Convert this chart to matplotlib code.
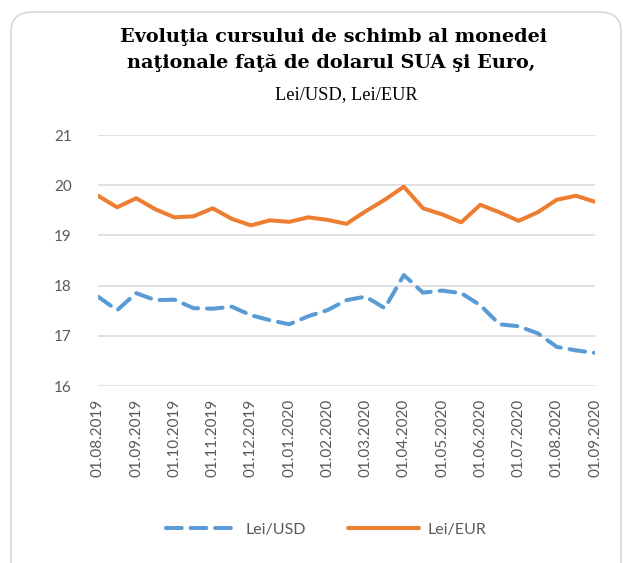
import matplotlib
matplotlib.use('Agg')
import matplotlib.pyplot as plt
from matplotlib.patches import FancyBboxPatch

TICK_LABELS = ["01.08.2019", "01.09.2019", "01.10.2019", "01.11.2019", "01.12.2019",
               "01.01.2020", "01.02.2020", "01.03.2020", "01.04.2020", "01.05.2020",
               "01.06.2020", "01.07.2020", "01.08.2020", "01.09.2020"]

lei_usd = [17.78, 17.51, 17.85, 17.71, 17.72, 17.55, 17.54, 17.58, 17.41, 17.31,
           17.23, 17.39, 17.51, 17.71, 17.78, 17.55, 18.21, 17.86, 17.90, 17.85,
           17.61, 17.23, 17.19, 17.05, 16.78, 16.71, 16.66]
lei_eur = [19.79, 19.56, 19.74, 19.52, 19.36, 19.38, 19.54, 19.33, 19.20, 19.30,
           19.27, 19.36, 19.31, 19.23, 19.48, 19.71, 19.97, 19.54, 19.42, 19.26,
           19.61, 19.46, 19.29, 19.46, 19.71, 19.79, 19.67]

BLUE = "#5B9BD5"
ORANGE = "#ED7D31"
GRAY_TXT = "#595959"

fig = plt.figure(figsize=(6.23, 5.63), dpi=100)
W, H = 623, 563

# rounded chart border (bottom edge runs off the image)
border = FancyBboxPatch((11 / W, 1 - 612 / H), 610 / W, 600 / H,
                        boxstyle="round,pad=0,rounding_size=0.035",
                        transform=fig.transFigure, facecolor="none",
                        edgecolor="#D9D9D9", linewidth=1.2, zorder=-1)
fig.patches.append(border)

ax = fig.add_axes([98 / W, 1 - 386 / H, (595 - 98) / W, (386 - 135) / H])
ax.set_facecolor("none")

x = list(range(len(lei_usd)))
ax.plot(x, lei_usd, color=BLUE, linewidth=2.9, dashes=(3.9, 2.2),
        dash_capstyle="round", solid_capstyle="round", label="Lei/USD")
ax.plot(x, lei_eur, color=ORANGE, linewidth=2.9, solid_capstyle="round",
        solid_joinstyle="round", label="Lei/EUR")

ax.set_xlim(0, len(lei_usd) - 1)
ax.set_ylim(16, 21)
ax.set_yticks([16, 17, 18, 19, 20, 21])
ax.set_xticks(range(0, len(lei_usd), 2))
ax.set_xticklabels(TICK_LABELS, rotation=90)
ax.tick_params(axis="both", length=0, labelsize=11, labelcolor=GRAY_TXT)
ax.tick_params(axis="y", pad=19)
ax.tick_params(axis="x", pad=9)
for lbl in ax.get_xticklabels() + ax.get_yticklabels():
    lbl.set_family("Lato")

ax.grid(axis="y", color="#D9D9D9", linewidth=1.1)
ax.set_axisbelow(True)
for s in ax.spines.values():
    s.set_visible(False)

# title (three lines, positioned by baseline)
fig.text(333 / W, 1 - 41.5 / H, "Evoluţia cursului de schimb al monedei",
         ha="center", va="baseline", fontsize=13.9, fontweight="bold",
         family="DejaVu Serif", color="black")
fig.text(331 / W, 1 - 68.5 / H, "naţionale faţă de dolarul SUA şi Euro,",
         ha="center", va="baseline", fontsize=13.9, fontweight="bold",
         family="DejaVu Serif", color="black")
fig.text(346 / W, 1 - 99 / H, "Lei/USD, Lei/EUR",
         ha="center", va="baseline", fontsize=13.2, family="Liberation Serif",
         color="black")

leg = fig.legend(loc="center", bbox_to_anchor=(326 / W, 1 - 530 / H),
                 ncol=2, frameon=False, handlelength=4.5, columnspacing=2.6,
                 handletextpad=0.5, prop={"family": "Lato", "size": 11.5})
for t in leg.get_texts():
    t.set_color(GRAY_TXT)

plt.savefig("out.png", dpi=100)
plt.close()
